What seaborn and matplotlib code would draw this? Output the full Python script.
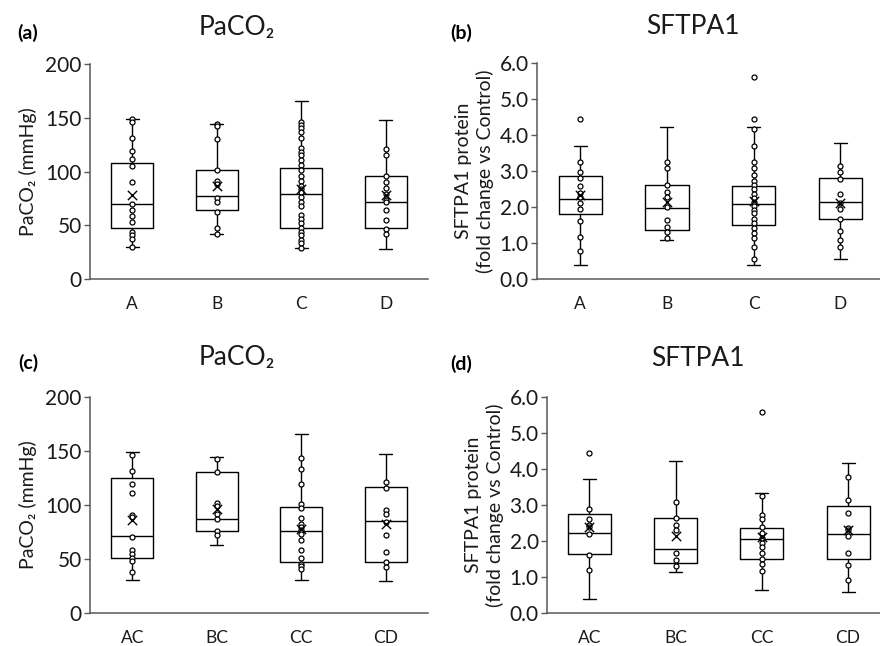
import numpy as np
import pandas as pd
import matplotlib
matplotlib.use("Agg")
import matplotlib.pyplot as plt
import seaborn as sns

sns.set_theme(style="white")
plt.rcParams['font.family'] = ['Lato', 'DejaVu Sans']

# ---------------- data ----------------
groups_top = ["A", "B", "C", "D"]
groups_bot = ["AC", "BC", "CC", "CD"]

# Panel (a) PaCO2 points
paco2_a = {
    "A": [148.6, 146.4, 131.0, 119.2, 111.5, 105.3, 89.8, 69.7, 64.1, 58.5, 52.9, 44.0, 40.6, 37.2, 29.4],
    "B": [144.3, 142.4, 130.3, 101.5, 91.0, 88.2, 75.5, 71.2, 62.5, 47.4, 41.8],
    "C": [146.4, 143.0, 140.9, 136.5, 130.7, 121.4, 118.3, 114.9, 110.8, 105.9, 101.2, 95.7, 91.0,
          86.1, 83.3, 80.5, 76.2, 71.5, 67.5, 59.8, 56.0, 51.7, 47.1, 43.3, 41.2, 36.5, 33.1, 28.8],
    "D": [121.0, 115.5, 95.7, 90.4, 85.1, 79.3, 73.4, 71.8, 64.1, 54.5, 46.1, 41.8],
}
# box stats: whisker low, q1, median, q3, whisker high, mean
paco2_a_whislo = [29.4, 41.8, 28.8, 28.2]
paco2_a_q1 = [47.4, 64.1, 47.4, 47.4]
paco2_a_med = [69.7, 76.8, 78.9, 71.2]
paco2_a_q3 = [107.7, 101.5, 102.8, 95.7]
paco2_a_whishi = [148.6, 144.3, 165.9, 147.7]
paco2_a_mean = [78.3, 86.7, 83.6, 78.3]

# Panel (b) SFTPA1 points
sftpa1_b = {
    "A": [4.45, 3.26, 2.96, 2.81, 2.59, 2.39, 2.27, 2.10, 1.94, 1.61, 1.17, 0.78],
    "B": [3.26, 3.09, 2.61, 2.43, 2.27, 2.00, 1.63, 1.45, 1.30, 1.15],
    "C": [5.60, 4.45, 4.16, 3.70, 3.26, 3.09, 2.90, 2.71, 2.61, 2.49, 2.36, 2.24, 2.14, 2.04,
          1.93, 1.82, 1.68, 1.56, 1.42, 1.27, 1.14, 0.90, 0.55],
    "D": [3.14, 2.96, 2.78, 2.36, 2.11, 1.94, 1.67, 1.32, 1.08, 0.90],
}
sftpa1_b_whislo = [0.38, 1.08, 0.38, 0.56]
sftpa1_b_q1 = [1.81, 1.36, 1.51, 1.66]
sftpa1_b_med = [2.23, 1.97, 2.07, 2.13]
sftpa1_b_q3 = [2.85, 2.61, 2.59, 2.80]
sftpa1_b_whishi = [3.70, 4.22, 4.22, 3.78]
sftpa1_b_mean = [2.34, 2.13, 2.17, 2.11]

# Panel (c) PaCO2 points
paco2_c = {
    "AC": [146.6, 131.5, 119.4, 111.1, 91.0, 88.9, 70.1, 58.6, 54.3, 51.2, 48.5, 38.0],
    "BC": [142.6, 130.6, 101.9, 99.4, 91.7, 87.0, 76.2, 72.2],
    "CC": [143.5, 133.6, 119.4, 101.2, 97.2, 88.3, 82.4, 79.6, 76.5, 72.8, 67.6, 58.3, 50.9,
           45.7, 43.2, 40.7],
    "CD": [121.3, 116.0, 95.4, 91.4, 84.0, 71.9, 56.2, 47.5, 42.6],
}
paco2_c_whislo = [30.6, 63.3, 30.9, 29.3]
paco2_c_q1 = [50.6, 76.2, 47.2, 47.5]
paco2_c_med = [71.0, 86.7, 75.6, 84.9]
paco2_c_q3 = [125.3, 130.9, 98.5, 117.0]
paco2_c_whishi = [149.4, 144.8, 165.4, 147.2]
paco2_c_mean = [86.4, 96.6, 78.1, 82.7]

# Panel (d) SFTPA1 points
sftpa1_d = {
    "AC": [4.44, 2.89, 2.60, 2.44, 2.39, 2.20, 1.60, 1.19],
    "BC": [3.09, 2.63, 2.44, 2.30, 1.67, 1.47, 1.31],
    "CC": [5.59, 3.26, 2.72, 2.60, 2.38, 2.23, 2.07, 1.94, 1.82, 1.67, 1.50, 1.37, 1.16],
    "CD": [3.78, 3.14, 2.79, 2.37, 2.31, 2.15, 1.68, 1.33, 0.92],
}
sftpa1_d_whislo = [0.39, 1.15, 0.63, 0.58]
sftpa1_d_q1 = [1.65, 1.38, 1.51, 1.51]
sftpa1_d_med = [2.23, 1.78, 2.05, 2.19]
sftpa1_d_q3 = [2.75, 2.63, 2.36, 2.96]
sftpa1_d_whishi = [3.72, 4.22, 3.33, 4.16]
sftpa1_d_mean = [2.39, 2.13, 2.10, 2.31]

paco2_ticks = [0, 50, 100, 150, 200]
paco2_ticklabels = ["0", "50", "100", "150", "200"]
sftpa1_ticks = [0, 1, 2, 3, 4, 5, 6]
sftpa1_ticklabels = ["0.0", "1.0", "2.0", "3.0", "4.0", "5.0", "6.0"]

# ---------------- figure ----------------
W, H = 880, 646
fig = plt.figure(figsize=(W / 100, H / 100), dpi=100)


def px_axes(left, right, top, bottom):
    return fig.add_axes([left / W, 1 - bottom / H, (right - left) / W, (bottom - top) / H])


SPINE = "#595959"


def panel(ax, cats, pts, wlo, q1, med, q3, whi, mean, ylim, ticks, ticklabels, xlim):
    stats = []
    for i, c in enumerate(cats):
        stats.append(dict(label=c, whislo=wlo[i], q1=q1[i], med=med[i], q3=q3[i],
                          whishi=whi[i], mean=mean[i], fliers=[]))
    ax.bxp(stats, positions=range(len(cats)), widths=0.5, capwidths=0.15,
           showmeans=False, showfliers=False, patch_artist=False,
           boxprops=dict(color="black", linewidth=1.0),
           medianprops=dict(color="black", linewidth=1.0),
           whiskerprops=dict(color="black", linewidth=1.0),
           capprops=dict(color="black", linewidth=1.0), manage_ticks=False)
    df = pd.DataFrame([(c, v) for c in cats for v in pts[c]], columns=["group", "value"])
    sns.stripplot(data=df, x="group", y="value", order=cats, jitter=False, ax=ax,
                  color="white", edgecolor="black", linewidth=0.9, size=3.6, zorder=3)
    mdf = pd.DataFrame({"group": cats, "mean": mean})
    sns.scatterplot(data=mdf, x="group", y="mean", marker="x", s=45, color="black",
                    linewidth=1.0, ax=ax, zorder=4, legend=False)
    ax.set_ylim(*ylim)
    ax.set_xlim(*xlim)
    ax.set_yticks(ticks)
    ax.set_yticklabels(ticklabels)
    ax.set_xticks(range(len(cats)))
    ax.set_xticklabels(cats)
    ax.set_xlabel("")
    ax.set_ylabel("")
    for s in ["top", "right"]:
        ax.spines[s].set_visible(False)
    for s in ["left", "bottom"]:
        ax.spines[s].set_color(SPINE)
        ax.spines[s].set_linewidth(1.1)
    ax.tick_params(axis="y", which="both", left=True, length=4, width=1, color=SPINE,
                   labelsize=15, labelcolor="#1a1a1a", pad=2)
    ax.tick_params(axis="x", bottom=False, labelsize=12.5, labelcolor="#1a1a1a", pad=6)
    ax.set_facecolor("white")


ax_a = px_axes(90, 428, 64, 279)
panel(ax_a, groups_top, paco2_a, paco2_a_whislo, paco2_a_q1, paco2_a_med, paco2_a_q3,
      paco2_a_whishi, paco2_a_mean, (0, 200), paco2_ticks, paco2_ticklabels, (-0.5, 3.5))
ax_b = px_axes(537, 880, 63, 279)
panel(ax_b, groups_top, sftpa1_b, sftpa1_b_whislo, sftpa1_b_q1, sftpa1_b_med, sftpa1_b_q3,
      sftpa1_b_whishi, sftpa1_b_mean, (0, 6), sftpa1_ticks, sftpa1_ticklabels, (-0.5, 3.46))
ax_c = px_axes(90, 428, 397, 613)
panel(ax_c, groups_bot, paco2_c, paco2_c_whislo, paco2_c_q1, paco2_c_med, paco2_c_q3,
      paco2_c_whishi, paco2_c_mean, (0, 200), paco2_ticks, paco2_ticklabels, (-0.5, 3.5))
ax_d = px_axes(547, 880, 397, 613)
panel(ax_d, groups_bot, sftpa1_d, sftpa1_d_whislo, sftpa1_d_q1, sftpa1_d_med, sftpa1_d_q3,
      sftpa1_d_whishi, sftpa1_d_mean, (0, 6), sftpa1_ticks, sftpa1_ticklabels, (-0.49, 3.37))

# y labels
for ax in (ax_a, ax_c):
    ax.set_ylabel("PaCO\u2082 (mmHg)", fontsize=14, color="#1a1a1a", labelpad=6)
for ax in (ax_b, ax_d):
    ax.set_ylabel("SFTPA1 protein\n(fold change vs Control)", fontsize=14,
                  color="#1a1a1a", labelpad=4, linespacing=1.25)

# titles and panel letters
def ftext(x, y, s, **kw):
    fig.text(x / W, 1 - y / H, s, ha="center", va="center", **kw)

ftext(237, 27, "PaCO\u2082", fontsize=19, color="#1a1a1a")
ftext(693, 27, "SFTPA1", fontsize=19, color="#1a1a1a")
ftext(237, 358, "PaCO\u2082", fontsize=19, color="#1a1a1a")
ftext(698, 359, "SFTPA1", fontsize=19, color="#1a1a1a")
ftext(28, 33, "(a)", fontsize=14, fontweight="bold", color="black")
ftext(461, 33, "(b)", fontsize=14, fontweight="bold", color="black")
ftext(28, 363, "(c)", fontsize=14, fontweight="bold", color="black")
ftext(461, 364, "(d)", fontsize=14, fontweight="bold", color="black")

fig.savefig("out.png", dpi=100, facecolor="white")
